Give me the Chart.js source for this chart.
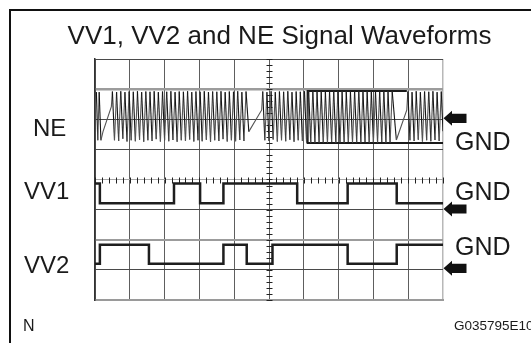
<!DOCTYPE html>
<html>
<head>
<meta charset="utf-8">
<script src="https://cdn.jsdelivr.net/npm/chart.js@4"></script>
<style>
html,body{margin:0;padding:0;background:#fff;}
#wrap{position:relative;width:531px;height:343px;overflow:hidden;font-family:"Liberation Sans",Arial,Helvetica,sans-serif;color:#1a1a1a;}
#c{position:absolute;left:0;top:0;}
.frame{position:absolute;left:9px;top:9px;width:700px;height:500px;border-left:2px solid #111;border-top:2px solid #111;}
.t{position:absolute;white-space:nowrap;line-height:1;}
</style>
</head>
<body>
<div id="wrap">
  <div class="frame"></div>
  <canvas id="c" width="531" height="343"></canvas>
  <div class="t" style="left:0;width:559px;text-align:center;top:22px;font-size:26px;">VV1, VV2 and NE Signal Waveforms</div>
  <div class="t" style="left:33px;top:115.5px;font-size:24px;">NE</div>
  <div class="t" style="left:24px;top:178.5px;font-size:24px;">VV1</div>
  <div class="t" style="left:24px;top:252.5px;font-size:24px;">VV2</div>
  <div class="t" style="left:455px;top:129px;font-size:25px;">GND</div>
  <div class="t" style="left:455px;top:179px;font-size:25px;">GND</div>
  <div class="t" style="left:455px;top:234px;font-size:25px;">GND</div>
  <div class="t" style="left:23px;top:318px;font-size:16px;">N</div>
  <div class="t" style="left:454px;top:319px;font-size:13.5px;">G035795E10</div>
</div>
<script>
// ---- data (x in horizontal divisions 0..10, y in vertical divisions 0..8) ----
const neX = [0,0.04,0.08,0.12,0.17,0.23,0.47,
0.50,0.56,0.62,0.68,0.74,0.80,0.86,0.92,0.98,1.04,1.10,1.16,1.22,1.28,1.34,1.40,1.46,1.52,1.58,1.64,1.70,1.76,1.82,1.88,1.94,2.00,2.06,2.12,2.18,2.24,2.30,2.36,2.42,2.48,2.54,2.60,2.66,2.72,2.78,2.84,2.90,2.96,3.02,3.08,3.14,3.20,3.26,3.32,3.38,3.44,3.50,3.56,3.62,3.68,3.74,3.80,3.86,3.92,3.98,4.04,4.10,4.16,4.22,4.28,4.34,
4.42,4.79,
4.82,4.88,4.94,5.00,5.06,5.12,5.18,5.24,5.30,5.36,5.42,5.48,5.54,5.60,5.66,5.72,5.78,5.84,5.90,5.96,6.02,6.08,6.14,6.20,6.26,6.32,6.38,6.44,6.50,6.56,6.62,6.68,6.74,6.80,6.86,6.92,6.98,7.04,7.10,7.16,7.22,7.28,7.34,7.40,7.46,7.52,7.58,7.64,7.70,7.76,7.82,7.88,7.94,8.00,8.06,8.12,8.18,8.24,8.30,8.36,8.42,8.48,8.54,
8.66,8.96,
8.99,9.05,9.11,9.17,9.23,9.29,9.35,9.41,9.47,9.53,9.59,9.65,9.71,9.77,9.83,9.89,9.95,10];
const neY = [6.3,6.9,5.3,6.9,5.3,5.59,6.42,
6.92,5.30,6.90,5.28,6.93,5.35,6.90,5.26,
6.92,5.30,6.91,5.27,6.93,5.32,6.90,5.25,
6.92,5.30,6.91,5.28,6.93,5.34,6.90,5.26,
6.92,5.30,6.91,5.27,6.93,5.31,6.90,5.25,
6.92,5.30,6.91,5.28,6.93,5.33,6.90,5.26,
6.92,5.30,6.91,5.27,6.93,5.32,6.90,5.25,
6.92,5.30,6.91,5.28,6.93,5.34,6.90,5.26,
6.92,5.30,6.91,5.27,6.93,5.31,6.90,5.28,
6.92,
5.59,6.31,
6.92,5.30,6.90,5.28,6.93,5.33,6.90,5.26,
6.92,5.30,6.91,5.27,6.93,5.32,6.90,5.25,
6.92,5.30,6.91,5.28,6.93,5.23,6.93,5.22,
6.93,5.22,6.93,5.22,6.93,5.23,6.93,5.22,
6.93,5.24,6.93,5.22,6.93,5.23,6.93,5.22,
6.93,5.24,6.93,5.22,6.93,5.23,6.93,5.22,
6.93,5.24,6.93,5.22,6.93,5.23,6.93,5.22,
6.93,5.24,6.93,5.22,6.93,5.23,6.93,
5.31,6.31,
6.92,5.30,6.90,5.28,6.93,5.32,6.90,5.26,6.92,5.30,6.91,5.27,6.93,5.31,6.90,5.28,6.92,5.6];

// heavy outline on the NE trace (right part)
const neBoxX = [10, 6.11, 6.11, 8.96];
const neBoxY = [5.21, 5.21, 6.94, 6.94];

// VV1 / VV2 square waves: level becomes value at given time
const vv1Times  = [0, 0.14, 2.27, 3.02, 3.69, 5.81, 7.26, 8.67, 10];
const vv1Levels = [3.87, 3.21, 3.87, 3.21, 3.87, 3.21, 3.87, 3.21, 3.21];
const vv2Times  = [0, 0.14, 1.55, 3.69, 4.36, 5.10, 7.26, 8.67, 10];
const vv2Levels = [1.20, 1.83, 1.20, 1.83, 1.20, 1.83, 1.20, 1.83, 1.83];

// ground reference levels pointed to by the arrows (NE, VV1, VV2)
const gndLevels = [6.03, 3.02, 1.05];

// scope graticule
const xDivs = 10, yDivs = 8, minorStep = 0.2, centerX = 5, centerY = 4;

const pts = (xs, ys) => xs.map((x, i) => ({x: x, y: ys[i]}));

const graticule = {
  id: 'graticule',
  beforeDatasetsDraw(chart) {
    const {ctx, scales: {x, y}} = chart;
    ctx.save();
    ctx.strokeStyle = '#222';
    ctx.lineWidth = 1;
    const cx = Math.round(x.getPixelForValue(centerX)) + 0.5;
    const cy = Math.round(y.getPixelForValue(centerY)) + 0.5;
    ctx.beginPath();
    for (let v = 0; v <= yDivs + 1e-6; v += minorStep) {
      const py = Math.round(y.getPixelForValue(v)) + 0.5;
      ctx.moveTo(cx - 3, py); ctx.lineTo(cx + 3, py);
    }
    for (let v = 0; v <= xDivs + 1e-6; v += minorStep) {
      const px = Math.round(x.getPixelForValue(v)) + 0.5;
      ctx.moveTo(px, cy - 3); ctx.lineTo(px, cy + 3);
    }
    ctx.stroke();
    ctx.restore();
  },
  afterDatasetsDraw(chart) {
    const {ctx, chartArea, scales: {y}} = chart;
    ctx.save();
    ctx.fillStyle = '#111';
    const r = chartArea.right;
    gndLevels.forEach(g => {
      const py = y.getPixelForValue(g);
      ctx.beginPath();
      ctx.moveTo(r + 0.5, py);
      ctx.lineTo(r + 9, py - 7.5);
      ctx.lineTo(r + 9, py - 4.6);
      ctx.lineTo(r + 23.5, py - 4.6);
      ctx.lineTo(r + 23.5, py + 4.6);
      ctx.lineTo(r + 9, py + 4.6);
      ctx.lineTo(r + 9, py + 7.5);
      ctx.closePath();
      ctx.fill();
    });
    ctx.restore();
  }
};

new Chart(document.getElementById('c'), {
  type: 'line',
  data: {
    datasets: [
      {
        data: pts(neX, neY), borderWidth: 1.1, pointRadius: 0, tension: 0,
        borderColor: '#222',
        segment: { borderColor: c => c.p1.parsed.y > c.p0.parsed.y ? '#555' : '#151515' }
      },
      { data: pts(neBoxX, neBoxY), borderWidth: 2, pointRadius: 0, borderColor: '#1a1a1a' },
      { data: pts(vv1Times, vv1Levels), stepped: 'before', borderWidth: 2.5, pointRadius: 0, borderColor: '#1e1e1e' },
      { data: pts(vv2Times, vv2Levels), stepped: 'before', borderWidth: 2.5, pointRadius: 0, borderColor: '#1e1e1e' }
    ]
  },
  options: {
    responsive: false,
    devicePixelRatio: 1,
    animation: false,
    events: [],
    layout: { padding: { left: 95, right: 88, top: 59, bottom: 43 } },
    plugins: { legend: { display: false }, title: { display: false }, tooltip: { enabled: false } },
    scales: {
      x: {
        type: 'linear', min: 0, max: xDivs,
        ticks: { display: false, stepSize: 1 },
        grid: {
          drawTicks: false,
          color: c => c.tick && c.tick.value === xDivs ? '#b8b8b8' : '#5e5e5e',
          lineWidth: c => c.tick && c.tick.value === xDivs ? 1.5 : 1
        },
        border: { color: '#9a9a9a', width: 2 }
      },
      y: {
        type: 'linear', min: 0, max: yDivs,
        ticks: { display: false, stepSize: 1 },
        grid: {
          drawTicks: false,
          color: c => {
            const v = c.tick ? c.tick.value : -1;
            if (v === 7 || v === 2 || v === 0) return '#9c9c9c';
            if (v === centerY) return '#a8a8a8';
            return '#4a4a4a';
          },
          lineWidth: c => {
            const v = c.tick ? c.tick.value : -1;
            if (v === 7) return 2.5;
            if (v === 2 || v === 0) return 2;
            return 1;
          }
        },
        border: { color: '#333', width: 1.5 }
      }
    }
  },
  plugins: [graticule]
});
</script>
</body>
</html>
